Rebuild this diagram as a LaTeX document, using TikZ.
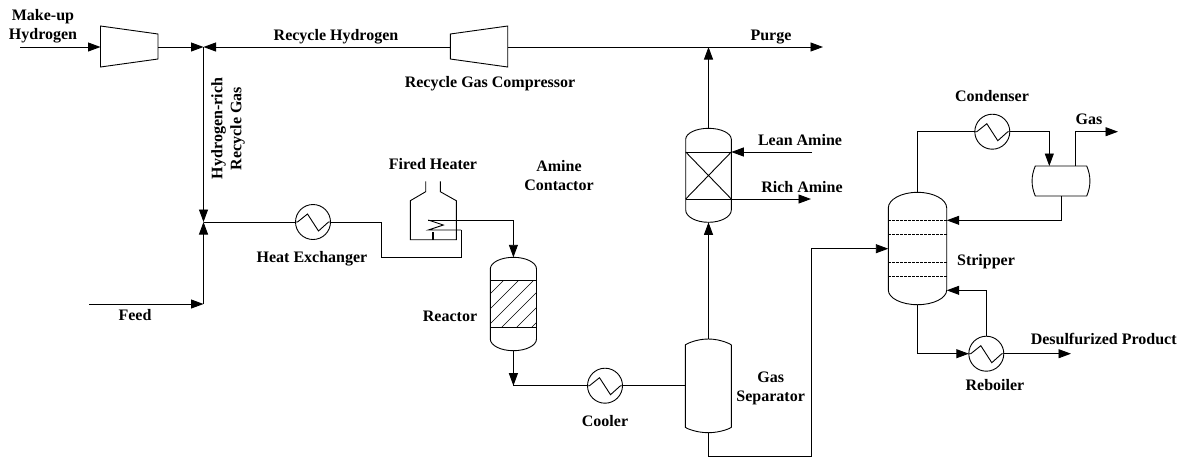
\documentclass[tikz,border=0pt]{standalone}
\usepackage{fontspec}
\setmainfont{Liberation Serif}
\usetikzlibrary{arrows.meta,calc}
\tikzset{
  x=1pt,y=-1pt,
  line/.style={line width=0.9pt,line join=miter},
  flow/.style={line,-{Triangle[length=12.5pt,width=9pt]}},
  lbl/.style={font=\fontsize{16}{19}\selectfont\bfseries,align=center,inner sep=0pt,text=black,anchor=base},
  pin/.style={inner sep=0pt,minimum size=0pt,outer sep=0pt},
  hxnode/.style={circle,draw,line width=0.9pt,minimum size=35pt,inner sep=0pt,outer sep=0pt,
    path picture={\draw[line width=0.9pt] ($(path picture bounding box.center)+(-17.5,0)$) -- ++(2,0) -- ++(10,-8) -- ++(11,17) -- ++(10,-9) -- ++(2,0);}},
}
% x1 x2 ytop yshoulder ybottomshoulder ybottom k
\newcommand{\vesselshape}[7]{%
  \pgfmathsetmacro{\xm}{(#1+#2)/2}\pgfmathsetmacro{\qw}{0.55*(#2-#1)/2}%
  \pgfmathsetmacro{\ha}{#7*(#4-#3)}\pgfmathsetmacro{\hb}{#7*(#6-#5)}%
  \draw[line] (#1,#4) .. controls (#1,#4-\ha) and (\xm-\qw,#3) .. (\xm,#3)
     .. controls (\xm+\qw,#3) and (#2,#4-\ha) .. (#2,#4) -- (#2,#5)
     .. controls (#2,#5+\hb) and (\xm+\qw,#6) .. (\xm,#6)
     .. controls (\xm-\qw,#6) and (#1,#5+\hb) .. (#1,#5) -- cycle;}
\begin{document}
\begin{tikzpicture}
\useasboundingbox (0,0) rectangle (1183,459);
% equipment anchors
\node[pin] (c1in) at (100.5,47) {};
\node[pin] (c1out) at (158,47) {};
\node[pin] (c2in) at (450.3,47) {};
\node[pin] (c2out) at (507.7,47) {};
\node[pin] (mu) at (20,47) {};
\node[pin] (j1) at (203.5,47) {};
\node[pin] (j2) at (203.5,222) {};
\node[pin] (j3) at (203.5,304) {};
\node[pin] (purge) at (823,47) {};
\node[pin] (pj) at (708.5,47) {};
\node[pin] (feed) at (89,304) {};
\node[hxnode] (hx) at (313,222) {};
\node[hxnode] (cool) at (605,385.7) {};
\node[hxnode] (cond) at (992.3,131.7) {};
\node[hxnode] (reb) at (986.3,353.7) {};
% compressors
\draw[line] (100.5,26) -- (158,34) -- (158,59) -- (100.5,67) -- cycle;
\draw[line] (450.3,34) -- (507.7,26) -- (507.7,67) -- (450.3,59) -- cycle;
% fired heater
\draw[line] (425.7,181.3) -- (425.7,191.7) -- (410.3,200.7) -- (410.3,239.7) -- (456.3,239.7) -- (456.3,200.7) -- (440.3,191.7) -- (440.3,181.3);
\node[pin] (coilT) at (428.3,220) {};
\node[pin] (coilB) at (461,230) {};
\draw[line] (coilT.center) -- (443.3,225) -- (428.3,230) -- (coilB.center);
\draw[line width=1.3pt] (433,239.7) -- (433,232);
% reactor
\vesselshape{490.3}{536.5}{257.3}{269}{339}{350.7}{0.55}
\draw[line] (490.3,280.7) -- (536.5,280.7) (490.3,327.7) -- (536.5,327.7);
\begin{scope}
\clip (490.3,280.7) rectangle (536.5,327.7);
\foreach \s in {769,784,799,814,829,844,859}{\draw[line width=0.6pt] (\s-270,270) -- (\s-340,340);}
\end{scope}
\node[pin] (rT) at (513.4,257.3) {};
\node[pin] (rB) at (513.4,350.7) {};
% separator
\vesselshape{685.3}{731.3}{339}{345}{427.3}{432.7}{0.1}
\node[pin] (sT) at (708.5,339) {};
\node[pin] (sB) at (708.5,432.7) {};
\node[pin] (sL) at (685.3,385.7) {};
% contactor
\vesselshape{685.7}{731.3}{128.3}{139.3}{210}{222.3}{0.55}
\draw[line] (685.7,152) -- (731.3,152) (685.7,199) -- (731.3,199);
\draw[line] (685.7,152) -- (731.3,199) (685.7,199) -- (731.3,152);
\node[pin] (aT) at (708.5,128.3) {};
\node[pin] (aB) at (708.5,222.3) {};
\node[pin] (aL) at (731.3,152) {};
\node[pin] (aR) at (731.3,199) {};
\node[pin] (lean) at (812,152) {};
\node[pin] (rich) at (811,199) {};
% stripper
\vesselshape{888.3}{946.7}{192.3}{208}{290}{304.7}{0.55}
\foreach \y in {220.3,234.3,262.3,276.3}{\draw[line width=0.7pt,dash pattern=on 2.5pt off 1.5pt] (888.3,\y) -- (946.7,\y);}
\node[pin] (stT) at (917.7,192.3) {};
\node[pin] (stB) at (917.7,304.7) {};
\node[pin] (stF) at (888.3,248.7) {};
\node[pin] (stR) at (946.7,220.3) {};
\node[pin] (stR2) at (946.7,290.3) {};
% drum
\draw[line] (1035.3,166) -- (1086.7,166) .. controls (1091,176) and (1091,186) .. (1086.7,196) -- (1035.3,196) .. controls (1031,186) and (1031,176) .. (1035.3,166) -- cycle;
\node[pin] (dT) at (1049.3,166) {};
\node[pin] (dG) at (1075,166) {};
\node[pin] (dB) at (1061,196) {};
\node[pin] (gas) at (1118,131.7) {};
\node[pin] (prod) at (1071,353.7) {};
% connectors
\draw[flow] (mu) -- (c1in);
\draw[flow] (c1out) -- (j1);
\draw[flow] (c2in) -- (j1);
\draw[line] (c2out) -- (pj);
\draw[flow] (pj) -- (purge);
\draw[flow] (j1) -- (j2);
\draw[flow] (feed) -- (j3);
\draw[flow] (j3) -- (j2);
\draw[line] (j2) -- (hx);
\draw[line] (hx) -- (381.7,222) |- (461,257.3) -- (coilB);
\draw[flow] (coilT) -| (rT);
\draw[flow] (rB) -- (513.4,385.7);
\draw[line] (513.4,385.7) -- (cool);
\draw[line] (cool) -- (sL);
\draw[flow] (sT) -- (aB);
\draw[flow] (aT) -- (pj);
\draw[flow] (lean) -- (aL);
\draw[flow] (aR) -- (rich);
\draw[flow] (sB) -- (708.5,456) -- (811.7,456) |- (stF);
\draw[line] (stT) |- (cond);
\draw[flow] (cond) -| (dT);
\draw[flow] (dG) |- (gas);
\draw[flow] (dB) |- (stR);
\draw[flow] (stB) |- (reb);
\draw[flow] (reb) |- (stR2);
\draw[flow] (reb) -- (prod);
% labels
\node[lbl] (l1) at (43,39) {Make-up\\Hydrogen};
\node[lbl] (l2) at (336,40) {Recycle Hydrogen};
\node[lbl] (l3) at (771,40) {Purge};
\node[lbl] (l4) at (490,87.3) {Recycle Gas Compressor};
\node[lbl,rotate=90] (l5) at (241.3,128.5) {Hydrogen-rich\\Recycle Gas};
\node[lbl] (l6) at (433,169.3) {Fired Heater};
\node[lbl] (l7) at (559,190.3) {Amine\\Contactor};
\node[lbl] (l8) at (800,145) {Lean Amine};
\node[lbl] (l9) at (802,192) {Rich Amine};
\node[lbl] (l10) at (312,262) {Heat Exchanger};
\node[lbl] (l11) at (450,321) {Reactor};
\node[lbl] (l12) at (135,320.7) {Feed};
\node[lbl] (l13) at (605,426) {Cooler};
\node[lbl] (l14) at (770.7,401) {Gas\\Separator};
\node[lbl] (l15) at (986,265) {Stripper};
\node[lbl] (l16) at (1103.7,344) {Desulfurized Product};
\node[lbl] (l17) at (995,390.7) {Reboiler};
\node[lbl] (l18) at (992,101.3) {Condenser};
\node[lbl] (l19) at (1089,124.7) {Gas};
\end{tikzpicture}
\end{document}
